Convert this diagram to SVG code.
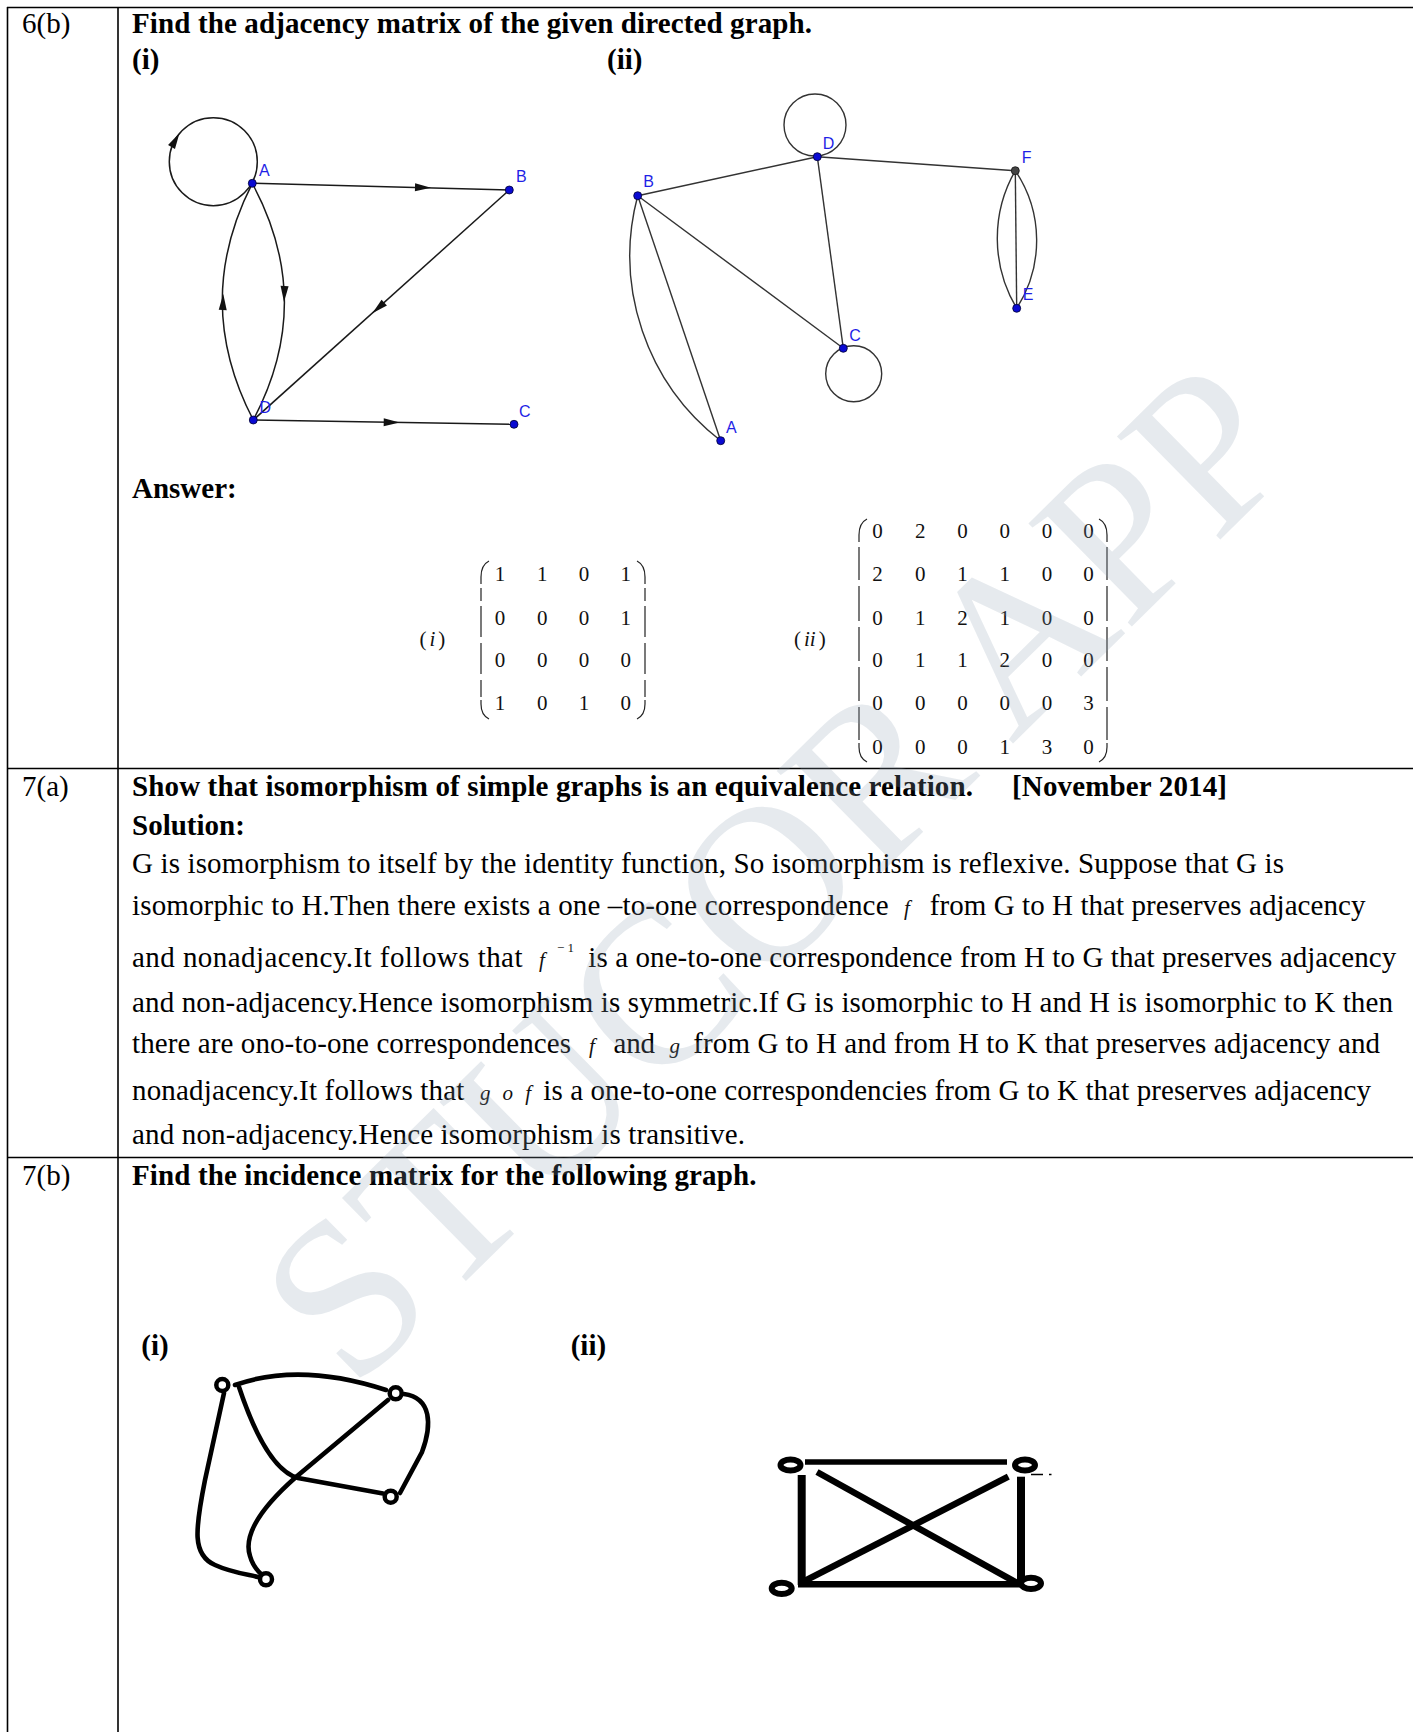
<svg xmlns="http://www.w3.org/2000/svg" xmlns:xlink="http://www.w3.org/1999/xlink" width="1413" height="1732" viewBox="0 0 1413 1732">
<style>
.tbl{stroke:#000;stroke-width:1.6;fill:none}
.t{font-family:"Liberation Serif","Times New Roman",serif;font-size:29px;fill:#000}
.b{font-weight:bold}
.m{font-family:"Liberation Serif","Times New Roman",serif;font-size:21px;fill:#111}
.mi{font-family:"Liberation Serif","Times New Roman",serif;font-style:italic;font-size:21px;fill:#111}
.lbl{font-family:"Liberation Sans",Arial,sans-serif;font-size:16px;fill:#1f1fe6}
.e1{stroke:#1a1a1a;stroke-width:1.5;fill:none}
.e2{stroke:#333;stroke-width:1.4;fill:none}
.nd{fill:#0a0ad2;stroke:#000030;stroke-width:0.8}
.br{stroke:#222;stroke-width:1.2;fill:none}
.thick{stroke:#000;stroke-width:4.6;fill:none;stroke-linecap:round}
.ring{fill:#fff;stroke:#000;stroke-width:4.5}
.ring2{fill:#fff;stroke:#000;stroke-width:6}
.wm{font-family:"Liberation Serif","Times New Roman",serif;font-size:223px;fill:#8fa0b3;fill-opacity:0.22}
</style>
<defs>
<path id="ah" d="M 8 0 L -8 -4 L -8 4 Z" fill="#111"/>
</defs>
<rect x="0" y="0" width="1413" height="1732" fill="#fff"/>

<g id="table">
<line class="tbl" x1="7" y1="7.5" x2="1413" y2="7.5"/>
<line class="tbl" x1="7.5" y1="7" x2="7.5" y2="1732"/>
<line class="tbl" x1="118" y1="7" x2="118" y2="1732"/>
<line class="tbl" x1="7" y1="768.5" x2="1413" y2="768.5"/>
<line class="tbl" x1="7" y1="1157.5" x2="1413" y2="1157.5"/>
</g>

<g id="row-6b">
<text class="t" x="22" y="33">6(b)</text>
<text class="t b" x="132" y="33" textLength="680" lengthAdjust="spacing">Find the adjacency matrix of the given directed graph.</text>
<text class="t b" x="132" y="68.5">(i)</text>
<text class="t b" x="607" y="68.5">(ii)</text>
<text class="t b" x="132" y="498">Answer:</text>
</g>

<g id="graph-i">
<g id="connectors-i">
<line class="e1" x1="252.3" y1="183.3" x2="509.3" y2="190"/>
<line class="e1" x1="509.3" y1="190" x2="253.3" y2="420"/>
<line class="e1" x1="253.3" y1="420" x2="514" y2="424.3"/>
<path class="e1" d="M 252.3 183.3 Q 316 301.7 253.3 420"/>
<path class="e1" d="M 252.3 183.3 Q 191.8 301.7 253.3 420"/>
<circle class="e1" cx="213.3" cy="161.7" r="44"/>
<use xlink:href="#ah" href="#ah" transform="translate(423 187.5) rotate(1.5)"/>
<use xlink:href="#ah" href="#ah" transform="translate(378.3 308) rotate(138)"/>
<use xlink:href="#ah" href="#ah" transform="translate(391.7 422.3) rotate(0.9)"/>
<use xlink:href="#ah" href="#ah" transform="translate(284.3 294) rotate(92)"/>
<use xlink:href="#ah" href="#ah" transform="translate(223 302) rotate(-88)"/>
<use xlink:href="#ah" href="#ah" transform="translate(175.5 140) rotate(-60)"/>
</g>
<g id="node-i-A"><circle class="nd" cx="252.3" cy="183.3" r="4"/><text class="lbl" x="259" y="176">A</text></g>
<g id="node-i-B"><circle class="nd" cx="509.3" cy="190" r="4"/><text class="lbl" x="516" y="181.5">B</text></g>
<g id="node-i-C"><circle class="nd" cx="514" cy="424.3" r="4"/><text class="lbl" x="519" y="417">C</text></g>
<g id="node-i-D"><circle class="nd" cx="253.3" cy="420" r="4"/><text class="lbl" x="259.5" y="413">D</text></g>
</g>

<g id="graph-ii">
<g id="connectors-ii">
<line class="e2" x1="637.7" y1="195.7" x2="817.3" y2="156.7"/>
<line class="e2" x1="817.3" y1="156.7" x2="1015.3" y2="170.7"/>
<line class="e2" x1="817.3" y1="156.7" x2="843.3" y2="348.3"/>
<line class="e2" x1="637.7" y1="195.7" x2="843.3" y2="348.3"/>
<line class="e2" x1="637.7" y1="195.7" x2="720.7" y2="440.7"/>
<path class="e2" d="M 637.7 195.7 A 234 234 0 0 0 720.7 440.7"/>
<line class="e2" x1="1015.3" y1="170.7" x2="1016.7" y2="308.3"/>
<path class="e2" d="M 1015.3 170.7 A 136 136 0 0 0 1016.7 308.3"/>
<path class="e2" d="M 1015.3 170.7 A 125 125 0 0 1 1016.7 308.3"/>
<circle class="e2" cx="815" cy="125" r="31"/>
<circle class="e2" cx="853.7" cy="373.7" r="28"/>
</g>
<g id="node-ii-A"><circle class="nd" cx="720.7" cy="440.7" r="4"/><text class="lbl" x="726" y="432.7">A</text></g>
<g id="node-ii-B"><circle class="nd" cx="637.7" cy="195.7" r="4"/><text class="lbl" x="643.3" y="187.3">B</text></g>
<g id="node-ii-C"><circle class="nd" cx="843.3" cy="348.3" r="4"/><text class="lbl" x="849.3" y="340.7">C</text></g>
<g id="node-ii-D"><circle class="nd" cx="817.3" cy="156.7" r="4"/><text class="lbl" x="822.7" y="149">D</text></g>
<g id="node-ii-E"><circle class="nd" cx="1016.7" cy="308.3" r="4"/><text class="lbl" x="1022.7" y="300">E</text></g>
<g id="node-ii-F"><circle cx="1015.3" cy="170.7" r="4" fill="#444" stroke="#111" stroke-width="0.8"/><text class="lbl" x="1021.7" y="162.7">F</text></g>
</g>

<g id="matrix-i">
<text class="m" x="419.4" y="646">(<tspan class="mi" dx="3">i</tspan><tspan dx="3">)</tspan></text>
<path class="br" d="M 489 561 Q 481 565 481 577 L 481 584 M 481 588 L 481 601 M 481 606 L 481 637 M 481 643 L 481 674 M 481 680 L 481 697 M 481 700 L 481 704 Q 481 715 489 719"/>
<path class="br" d="M 637 561 Q 645 565 645 577 L 645 584 M 645 588 L 645 601 M 645 606 L 645 637 M 645 643 L 645 674 M 645 680 L 645 697 M 645 700 L 645 704 Q 645 715 637 719"/>
<g text-anchor="middle" class="m">
<text x="500" y="581">1</text><text x="542.3" y="581">1</text><text x="584" y="581">0</text><text x="625.7" y="581">1</text>
<text x="500" y="624.5">0</text><text x="542.3" y="624.5">0</text><text x="584" y="624.5">0</text><text x="625.7" y="624.5">1</text>
<text x="500" y="667">0</text><text x="542.3" y="667">0</text><text x="584" y="667">0</text><text x="625.7" y="667">0</text>
<text x="500" y="710">1</text><text x="542.3" y="710">0</text><text x="584" y="710">1</text><text x="625.7" y="710">0</text>
</g>
</g>

<g id="matrix-ii">
<text class="m" x="794" y="646">(<tspan class="mi" dx="3">ii</tspan><tspan dx="3">)</tspan></text>
<path class="br" d="M 867 519 Q 859 523 859 535 L 859 542 M 859 547 L 859 580 M 859 586 L 859 621 M 859 627 L 859 661 M 859 667 L 859 701 M 859 707 L 859 740 M 859 743 L 859 747 Q 859 758 867 762"/>
<path class="br" d="M 1099 519 Q 1107 523 1107 535 L 1107 542 M 1107 547 L 1107 580 M 1107 586 L 1107 621 M 1107 627 L 1107 661 M 1107 667 L 1107 701 M 1107 707 L 1107 740 M 1107 743 L 1107 747 Q 1107 758 1099 762"/>
<g text-anchor="middle" class="m">
<text x="877.5" y="537.5">0</text><text x="920.3" y="537.5">2</text><text x="962.5" y="537.5">0</text><text x="1004.7" y="537.5">0</text><text x="1046.9" y="537.5">0</text><text x="1088.4" y="537.5">0</text>
<text x="877.5" y="581">2</text><text x="920.3" y="581">0</text><text x="962.5" y="581">1</text><text x="1004.7" y="581">1</text><text x="1046.9" y="581">0</text><text x="1088.4" y="581">0</text>
<text x="877.5" y="624.5">0</text><text x="920.3" y="624.5">1</text><text x="962.5" y="624.5">2</text><text x="1004.7" y="624.5">1</text><text x="1046.9" y="624.5">0</text><text x="1088.4" y="624.5">0</text>
<text x="877.5" y="667">0</text><text x="920.3" y="667">1</text><text x="962.5" y="667">1</text><text x="1004.7" y="667">2</text><text x="1046.9" y="667">0</text><text x="1088.4" y="667">0</text>
<text x="877.5" y="710">0</text><text x="920.3" y="710">0</text><text x="962.5" y="710">0</text><text x="1004.7" y="710">0</text><text x="1046.9" y="710">0</text><text x="1088.4" y="710">3</text>
<text x="877.5" y="754">0</text><text x="920.3" y="754">0</text><text x="962.5" y="754">0</text><text x="1004.7" y="754">1</text><text x="1046.9" y="754">3</text><text x="1088.4" y="754">0</text>
</g>
</g>

<g id="row-7a">
<text class="t" x="22" y="795.5">7(a)</text>
<text class="t b" x="132" y="795.5" textLength="841" lengthAdjust="spacing">Show that isomorphism of simple graphs is an equivalence relation.</text>
<text class="t b" x="1012" y="795.5" textLength="215" lengthAdjust="spacing">[November 2014]</text>
<text class="t b" x="132" y="834.5">Solution:</text>
<text class="t" x="132" y="873" textLength="1152" lengthAdjust="spacing">G is isomorphism to itself by the identity function, So isomorphism is reflexive. Suppose that G is</text>
<text class="t" x="132" y="914.5" textLength="756.5" lengthAdjust="spacing">isomorphic to H.Then there exists a one –to-one correspondence</text>
<text class="mi" x="904" y="914.5">f</text>
<text class="t" x="929.7" y="914.5" textLength="435.8" lengthAdjust="spacing">from G to H that preserves adjacency</text>
<text class="t" x="132" y="967" textLength="390.5" lengthAdjust="spacing">and nonadjacency.It follows  that</text>
<text class="mi" x="539" y="967">f</text>
<text class="m" x="557" y="952" style="font-size:13px">− 1</text>
<text class="t" x="588.3" y="967" textLength="808" lengthAdjust="spacing">is a one-to-one correspondence from H to G that preserves adjacency</text>
<text class="t" x="132" y="1011.5" textLength="1261" lengthAdjust="spacing">and non-adjacency.Hence isomorphism is symmetric.If G is isomorphic to H and H is isomorphic to K then</text>
<text class="t" x="132" y="1052.5" textLength="439" lengthAdjust="spacing">there are ono-to-one correspondences</text>
<text class="mi" x="589" y="1052.5">f</text>
<text class="t" x="613.6" y="1052.5" textLength="41.5" lengthAdjust="spacing">and</text>
<text class="mi" x="669.5" y="1052.5">g</text>
<text class="t" x="693.3" y="1052.5" textLength="686.7" lengthAdjust="spacing">from G to H and from H to K that preserves adjacency and</text>
<text class="t" x="132" y="1100" textLength="332.3" lengthAdjust="spacing">nonadjacency.It follows that</text>
<text class="mi" x="480" y="1100" textLength="51" lengthAdjust="spacing">g o f</text>
<text class="t" x="543.3" y="1100" textLength="827.7" lengthAdjust="spacing">is a one-to-one correspondencies from G to K that preserves adjacency</text>
<text class="t" x="132" y="1143.6" textLength="613" lengthAdjust="spacing">and non-adjacency.Hence isomorphism is transitive.</text>
</g>

<g id="row-7b">
<text class="t" x="22" y="1185">7(b)</text>
<text class="t b" x="132" y="1185" textLength="624.5" lengthAdjust="spacing">Find the incidence matrix for the following graph.</text>
<text class="t b" x="141.3" y="1355">(i)</text>
<text class="t b" x="570.7" y="1355">(ii)</text>
</g>

<g id="graph-7b-i">
<g id="connectors-7b-i">
<path class="thick" d="M 235 1385 Q 300 1362 386 1390"/>
<path class="thick" d="M 239 1387 C 250 1420 270 1470 298 1478 L 383 1493.5"/>
<path class="thick" d="M 388 1400 L 296 1477 C 262 1507 243 1535 250 1556 Q 253 1567 262 1575"/>
<path class="thick" d="M 404 1394 C 432 1398 432 1425 422 1452 L 400 1493"/>
<path class="thick" d="M 224 1393 L 205 1480 C 195 1530 192 1555 215 1565 C 230 1572 245 1574 258 1577"/>
</g>
<g id="n7i-1"><circle class="ring" cx="222.3" cy="1385" r="6"/></g>
<g id="n7i-2"><circle class="ring" cx="395.7" cy="1393.3" r="6"/></g>
<g id="n7i-3"><circle class="ring" cx="390.7" cy="1496.7" r="6"/></g>
<g id="n7i-4"><circle class="ring" cx="266" cy="1579.3" r="6"/></g>
</g>

<g id="graph-7b-ii">
<g id="connectors-7b-ii">
<line stroke="#000" stroke-width="5.5" x1="805" y1="1462" x2="1007" y2="1462"/>
<line stroke="#000" stroke-width="8" x1="801.7" y1="1475" x2="801.7" y2="1585"/>
<line stroke="#000" stroke-width="8" x1="1021" y1="1476.7" x2="1021" y2="1581.7"/>
<line stroke="#000" stroke-width="6.5" x1="798" y1="1584.3" x2="1020" y2="1584.3"/>
<line stroke="#000" stroke-width="6.5" x1="817" y1="1472" x2="1017" y2="1583"/>
<line stroke="#000" stroke-width="6.5" x1="1008.3" y1="1476.7" x2="803.3" y2="1581.7"/>
<line stroke="#000" stroke-width="1.5" x1="1031" y1="1474.5" x2="1043" y2="1474.5"/>
<line stroke="#000" stroke-width="1.5" x1="1049" y1="1474.5" x2="1051.5" y2="1474.5"/>
</g>
<g id="n7ii-1"><ellipse class="ring2" cx="790.5" cy="1465" rx="10" ry="5.6"/></g>
<g id="n7ii-2"><ellipse class="ring2" cx="1025" cy="1465" rx="10" ry="5.6"/></g>
<g id="n7ii-3"><ellipse class="ring2" cx="781.7" cy="1588.3" rx="10" ry="5.6"/></g>
<g id="n7ii-4"><ellipse class="ring2" cx="1031" cy="1583.3" rx="10" ry="5.6"/></g>
</g>

<g id="watermark">
<text class="wm" transform="translate(353 1392) rotate(-44.5)">STUCOR APP</text>
</g>
</svg>
